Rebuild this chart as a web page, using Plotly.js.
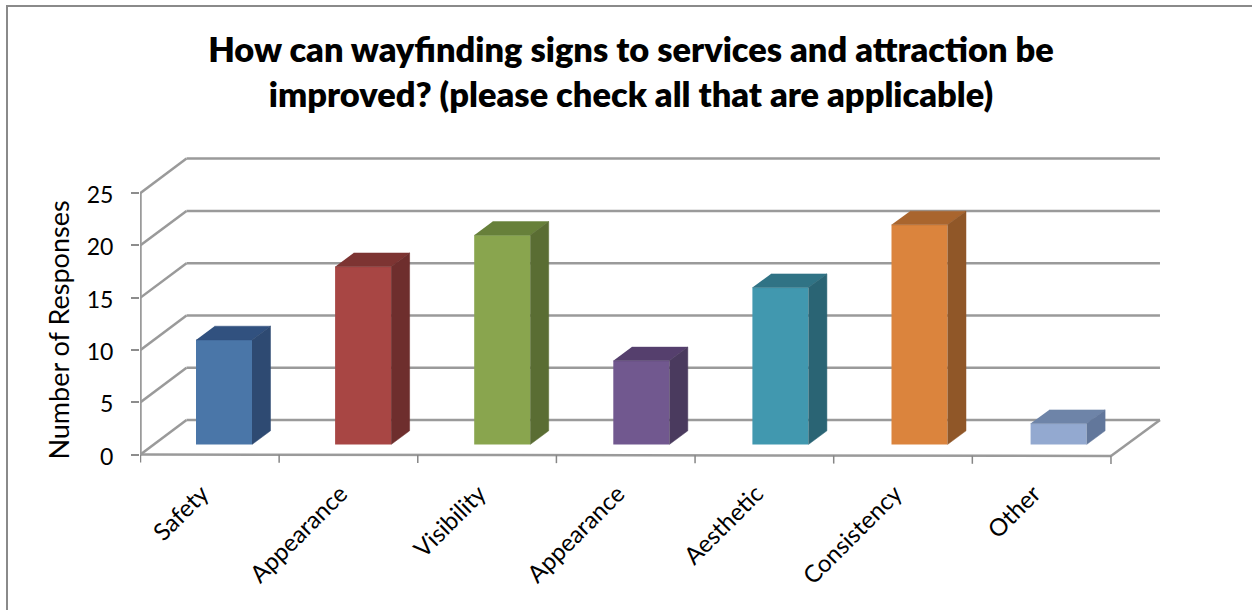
<!DOCTYPE html>
<html><head><meta charset="utf-8">
<script src="https://cdn.plot.ly/plotly-3.0.1.min.js"></script>
<style>
html,body{margin:0;padding:0;background:#fff;overflow:hidden}
#chart{position:absolute;left:0;top:0;width:1252px;height:610px}
#frame{position:absolute;left:6px;top:5px;right:0;bottom:0;border-left:2px solid #8a8a8a;border-top:2px solid #8a8a8a;pointer-events:none}
</style></head><body>
<div id="chart"></div><div id="frame"></div>
<script>
const categories = ['Safety','Appearance','Visibility','Appearance','Aesthetic','Consistency','Other'];
const responses = [10,17,20,8,15,21,2];
const frontColors = ['#4A76A8','#A84644','#89A54E','#71588F','#4198AF','#DB843D','#93A9D0'];
const sideColors  = ['#2E4A72','#6E2E2D','#5A6D33','#4A3A5E','#2A6474','#905728','#62779B'];
const topColors   = ['#31517F','#7D3432','#67803A','#553F6D','#307385','#A9652E','#6E84A8'];
const gridValues = [0,5,10,15,20,25];

// plot geometry in pixels -> data scale
const pxPerCat = 138.64, pxPerUnit = 10.46;
const L = 140, R = 1163, T = 150, B = 510, W = 1252, H = 610, y0px = 454.5;
const xMin = -0.5 - 0.5/pxPerCat;
const xRange = [xMin, xMin + (R-L)/pxPerCat];
const yRange = [(y0px-B)/pxPerUnit, (y0px-T)/pxPerUnit];
const n = categories.length, xLeft = -0.5, xRight = n-0.5;
// back wall is offset from the front plane (perspective: a little wider on the right)
const backX = x => x + (46 + 3*(x-xLeft)/n)/pxPerCat;
const backY = v => v + 34.4/pxPerUnit;

const grey = '#9a9a9a';
const shapes = [];
function seg(x0,y0,x1,y1){
  shapes.push({type:'line',xref:'x',yref:'y',x0,y0,x1,y1,layer:'below',line:{color:grey,width:2.5}});
}
gridValues.forEach(v=>{
  if(v>0) seg(xLeft,v,backX(xLeft),backY(v));
  seg(backX(xLeft),backY(v),backX(xRight),backY(v));
});
const frontDrop = -1.5/pxPerUnit;
seg(xLeft,0,xRight,frontDrop);
seg(xRight,frontDrop,backX(xRight),backY(0));
seg(xLeft,0,backX(xLeft),backY(0));
for(let i=0;i<=n;i++){
  const x=i-0.5;
  shapes.push({type:'line',xref:'x',yref:'y',x0:x,y0:frontDrop*i/n,x1:x,y1:frontDrop*i/n-8/pxPerUnit,
    layer:'below',line:{color:'#868686',width:1.5}});
}

const traces = [];
// vertical axis (drawn as a trace so it is not clipped at the plot's left edge)
traces.push({type:'scatter',mode:'lines',x:[xLeft,xLeft],y:[0,25],line:{color:grey,width:2.5},
  cliponaxis:false,hoverinfo:'skip',showlegend:false});

function poly(pts,color){
  traces.push({type:'scatter',mode:'lines',fill:'toself',fillcolor:color,
    x:pts.map(p=>p[0]),y:pts.map(p=>p[1]),line:{color:color,width:0.5},
    cliponaxis:false,hoverinfo:'skip',showlegend:false});
}
const barWidth = 56/pxPerCat, barPitch = 139.1/pxPerCat, barOffset = (224-140.5)/pxPerCat-0.5;
const barBase = 10/pxPerUnit, faceDX = 18.5/pxPerCat, faceDY = 13.7/pxPerUnit;
responses.forEach((v,i)=>{
  const c = barOffset + i*barPitch, a = c-barWidth/2, b = c+barWidth/2, top = barBase+v;
  traces.push({type:'bar',x:[c],y:[v],base:[barBase],width:[barWidth],
    marker:{color:frontColors[i],line:{width:0}},hoverinfo:'skip',showlegend:false});
  poly([[a,top],[b,top],[b+faceDX,top+faceDY],[a+faceDX,top+faceDY]],topColors[i]);
  poly([[b,barBase],[b+faceDX,barBase+faceDY],[b+faceDX,top+faceDY],[b,top]],sideColors[i]);
});

const fontFam = 'Lato, Carlito, Calibri, sans-serif';
const layout = {
  width:W,height:H,autosize:false,
  margin:{l:L,r:W-R,t:T,b:H-B,pad:0},
  paper_bgcolor:'#fff',plot_bgcolor:'rgba(0,0,0,0)',
  font:{family:fontFam,color:'#000'},
  showlegend:false,barmode:'overlay',shapes,
  title:{text:'How can wayfinding signs to services and attraction be<br>improved? (please check all that are applicable)',
    font:{family:fontFam,size:34.4,weight:800,color:'#000'},x:631/W,xanchor:'center',y:1-62/H,yanchor:'top'},
  xaxis:{range:xRange,tickmode:'array',tickvals:categories.map((_,i)=>i),ticktext:categories,
    tickangle:-45,ticks:'',showgrid:false,zeroline:false,showline:false,tickfont:{size:24,family:fontFam},
    ticklabelstandoff:-36,ticklabelshift:-8,automargin:false},
  yaxis:{range:yRange,tickmode:'array',tickvals:gridValues,ticktext:gridValues.map(String),
    ticks:'outside',ticklen:8,tickwidth:2,tickcolor:'#8c8c8c',showgrid:false,zeroline:false,showline:false,
    tickfont:{size:23,family:fontFam},ticklabelstandoff:13,ticklabelshift:2,automargin:false,
    title:{text:'Number of Responses',font:{size:27,family:fontFam},standoff:9}}
};
Plotly.newPlot('chart',traces,layout,{displayModeBar:false,staticPlot:true});
</script></body></html>
